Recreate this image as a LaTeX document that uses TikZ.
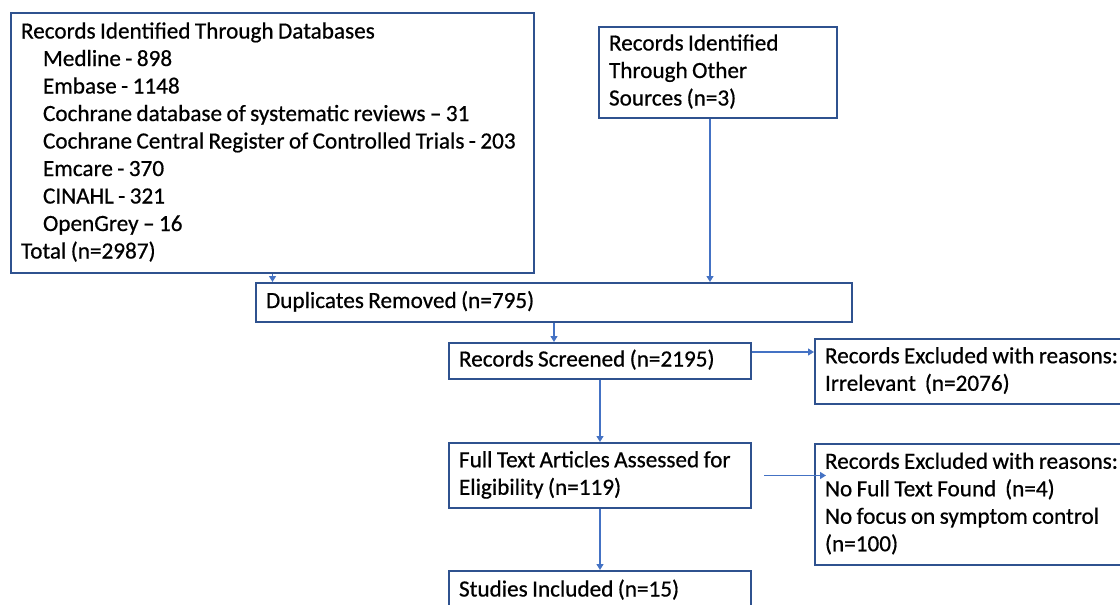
\documentclass[tikz,border=0pt]{standalone}
\usepackage{fontspec}
\setmainfont{Carlito}[FakeBold=0.6]
\usetikzlibrary{arrows.meta}
\definecolor{boxblue}{HTML}{2F528F}
\definecolor{arrblue}{HTML}{4472C4}
\newcommand{\boxlines}[1]{\begin{tabular}{@{}l@{}}#1\end{tabular}}
\newcommand{\boxfont}{\fontsize{23.2}{27.5}\selectfont\spaceskip=0.19em plus 0.05em minus 0.02em\relax}
\begin{document}
\begin{tikzpicture}[x=1pt,y=-1pt,
  flowbox/.style={draw=boxblue, line width=2pt, anchor=north west, inner xsep=10pt, inner ysep=0pt,
    align=left, execute at begin node=\boxfont},
  flowarrow/.style={draw=arrblue, line width=1.3pt, -{Triangle[width=7pt,length=6pt]}}]
\useasboundingbox (0,0) rectangle (1120,605);
\def\ind{\hspace*{22pt}}
\node[flowbox, text width=503pt, minimum height=260pt] (db) at (10,12)
  {\boxlines{Records Identified Through Databases\\
   \ind Medline - 898\\
   \ind Embase - 1148\\
   \ind Cochrane database of systematic reviews -- 31\\
   \ind Cochrane Central Register of Controlled Trials - 203\\
   \ind Emcare - 370\\
   \ind CINAHL - 321\\
   \ind OpenGrey -- 16\\
   Total (n=2987)}};
\node[flowbox, text width=218pt, minimum height=91pt] (other) at (598,26)
  {\boxlines{Records Identified\\Through Other\\Sources (n=3)}};
\node[flowbox, text width=576pt, minimum height=39pt] (dup) at (255,282)
  {\boxlines{Duplicates Removed (n=795)}};
\node[flowbox, text width=282pt, minimum height=36pt] (scr) at (448,342)
  {\boxlines{Records Screened (n=2195)}};
\node[flowbox, text width=300pt, minimum height=65pt] (ex1) at (814,338)
  {\boxlines{Records Excluded with reasons:\\Irrelevant\ \ (n=2076)}};
\node[flowbox, text width=282pt, minimum height=65pt] (full) at (448,442)
  {\boxlines{Full Text Articles Assessed for\\Eligibility (n=119)}};
\node[flowbox, text width=300pt, minimum height=121pt] (ex2) at (814,443)
  {\boxlines{Records Excluded with reasons:\\No Full Text Found\ \ (n=4)\\No focus on symptom control\\(n=100)}};
\node[flowbox, text width=282pt, minimum height=40pt] (inc) at (448,570)
  {\boxlines{Studies Included (n=15)}};
\draw[flowarrow] (db.south) -- (db.south |- dup.north);
\draw[flowarrow] ([xshift=-8pt]other.south) -- ([xshift=-8pt]other.south |- dup.north);
\draw[flowarrow] (dup.south) -- (dup.south |- scr.north);
\draw[flowarrow] ([yshift=9pt]scr.east) -- ([yshift=9pt]scr.east -| ex1.west);
\draw[flowarrow] (scr.south) -- (full.north);
\draw[flowarrow] ([xshift=12pt]full.east) -- ([xshift=12pt]full.east -| ex2.west);
\draw[flowarrow] (full.south) -- (inc.north);
\end{tikzpicture}
\end{document}
